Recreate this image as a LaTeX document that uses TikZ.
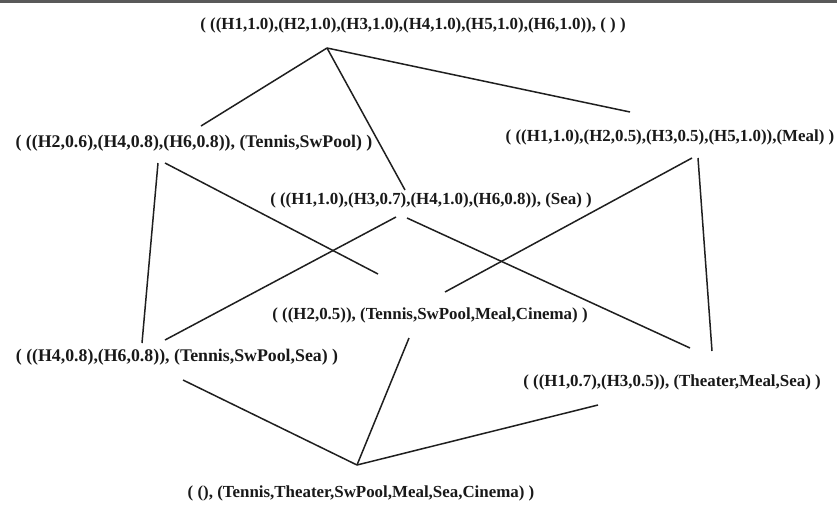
\documentclass[tikz,border=0pt]{standalone}
\usepackage{fontspec}
\setmainfont{Liberation Serif}
\begin{document}
\begin{tikzpicture}[x=1pt,y=-1pt,
  setnode/.style={inner sep=0pt, text=black!90, font=\fontsize{16.9}{20}\selectfont\bfseries},
  widenode/.style={setnode, font=\fontsize{17.8}{20}\selectfont\bfseries},
  edge/.style={draw=black!88, line width=1.5pt}]
% canvas and the thin frame line along the top
\useasboundingbox (0,0) rectangle (837,507);
\fill[white] (0,0) rectangle (837,507);
\fill[black!65] (0,0) rectangle (837,2.5);

% lattice elements
\node[setnode]  (top) at (413,25)  {( ((H1,1.0),(H2,1.0),(H3,1.0),(H4,1.0),(H5,1.0),(H6,1.0)), ( ) )};
\node[widenode] (lft) at (194,143) {( ((H2,0.6),(H4,0.8),(H6,0.8)), (Tennis,SwPool) )};
\node[setnode]  (rgt) at (670,137) {( ((H1,1.0),(H2,0.5),(H3,0.5),(H5,1.0)),(Meal) )};
\node[setnode]  (sea) at (431,200) {( ((H1,1.0),(H3,0.7),(H4,1.0),(H6,0.8)), (Sea) )};
\node[setnode]  (cin) at (430,315) {( ((H2,0.5)), (Tennis,SwPool,Meal,Cinema) )};
\node[widenode] (tss) at (177,357) {( ((H4,0.8),(H6,0.8)), (Tennis,SwPool,Sea) )};
\node[setnode]  (thr) at (672,382) {( ((H1,0.7),(H3,0.5)), (Theater,Meal,Sea) )};
\node[setnode]  (bot) at (361,493) {( (), (Tennis,Theater,SwPool,Meal,Sea,Cinema) )};

% connection points beside the texts
\coordinate (top-s)   at (327,48);
\coordinate (lft-n)   at (201,126);
\coordinate (sea-n)   at (405,190);
\coordinate (rgt-n)   at (630,112);
\coordinate (lft-s1)  at (158,163);
\coordinate (lft-s2)  at (165,163);
\coordinate (rgt-s1)  at (692,158);
\coordinate (rgt-s2)  at (698,158);
\coordinate (sea-s1)  at (396,217);
\coordinate (sea-s2)  at (407,218);
\coordinate (cin-n1)  at (378,274);
\coordinate (cin-n2)  at (445,292);
\coordinate (cin-s)   at (409,338);
\coordinate (tss-n1)  at (142,343);
\coordinate (tss-n2)  at (165,340);
\coordinate (tss-s)   at (183,380);
\coordinate (thr-n1)  at (690,348);
\coordinate (thr-n2)  at (712,351);
\coordinate (thr-s)   at (598,405);
\coordinate (bot-n)   at (357,465);

% covering relations
\draw[edge] (top-s) -- (lft-n);
\draw[edge] (top-s) -- (sea-n);
\draw[edge] (top-s) -- (rgt-n);
\draw[edge] (lft-s1) -- (tss-n1);
\draw[edge] (lft-s2) -- (cin-n1);
\draw[edge] (rgt-s1) -- (cin-n2);
\draw[edge] (rgt-s2) -- (thr-n2);
\draw[edge] (sea-s1) -- (tss-n2);
\draw[edge] (sea-s2) -- (thr-n1);
\draw[edge] (cin-s) -- (bot-n);
\draw[edge] (tss-s) -- (bot-n);
\draw[edge] (thr-s) -- (bot-n);
\end{tikzpicture}
\end{document}
